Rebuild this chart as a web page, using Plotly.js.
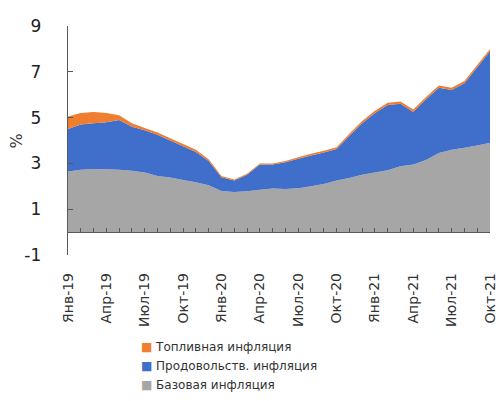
<!DOCTYPE html>
<html>
<head>
<meta charset="utf-8">
<script src="https://cdn.plot.ly/plotly-3.0.1.min.js"></script>
<style>
html, body { margin: 0; padding: 0; background: #fff; }
#chart { width: 496px; height: 401px; }
</style>
</head>
<body>
<div id="chart"></div>
<script>
var months = ['Янв-19','Фев-19','Мар-19','Апр-19','Май-19','Июн-19','Июл-19','Авг-19','Сен-19','Окт-19','Ноя-19','Дек-19',
              'Янв-20','Фев-20','Мар-20','Апр-20','Май-20','Июн-20','Июл-20','Авг-20','Сен-20','Окт-20','Ноя-20','Дек-20',
              'Янв-21','Фев-21','Мар-21','Апр-21','Май-21','Июн-21','Июл-21','Авг-21','Сен-21','Окт-21'];
var tickLabels = ['Янв-19','Апр-19','Июл-19','Окт-19','Янв-20','Апр-20','Июл-20','Окт-20','Янв-21','Апр-21','Июл-21','Окт-21'];
var yTicks = [-1, 1, 3, 5, 7, 9];

// contributions, п.п.
var baseInfl = [2.65,2.72,2.76,2.75,2.72,2.68,2.60,2.45,2.38,2.28,2.18,2.05,
                1.80,1.75,1.78,1.85,1.90,1.88,1.92,2.00,2.10,2.25,2.36,2.50,
                2.60,2.70,2.88,2.95,3.15,3.45,3.60,3.68,3.78,3.90];
var foodInfl = [1.85,1.98,1.99,2.05,2.18,1.92,1.85,1.80,1.62,1.47,1.32,1.05,
                0.60,0.50,0.72,1.10,1.05,1.17,1.28,1.35,1.38,1.38,1.84,2.25,
                2.60,2.85,2.72,2.30,2.65,2.85,2.60,2.82,3.42,4.00];
var fuelInfl = [0.55,0.50,0.50,0.40,0.20,0.15,0.10,0.10,0.10,0.10,0.10,0.08,
                0.05,0.05,0.05,0.05,0.05,0.05,0.07,0.07,0.07,0.08,0.10,0.10,
                0.10,0.10,0.10,0.10,0.10,0.10,0.10,0.10,0.10,0.10];

var GRAY = '#A6A6A6', BLUE = '#3F6FCB', ORANGE = '#EF7E30';
var AXIS = '#595959';
var Y_MIN = -1, Y_MAX = 9;

CHART = document.getElementById('chart');

var data = [{
    x: months, y: baseInfl, name: 'Базовая инфляция',
    stackgroup: 'infl', mode: 'none', fillcolor: GRAY,
    showlegend: false, hoverinfo: 'skip'
},{
    x: months, y: foodInfl, name: 'Продовольств. инфляция',
    stackgroup: 'infl', mode: 'none', fillcolor: BLUE,
    showlegend: false, hoverinfo: 'skip'
},{
    x: months, y: fuelInfl, name: 'Топливная инфляция',
    stackgroup: 'infl', mode: 'none', fillcolor: ORANGE,
    showlegend: false, hoverinfo: 'skip'
},{
    // empty trace holding the visible value axis (-1..9)
    x: months, y: months.map(function () { return null; }),
    yaxis: 'y2', mode: 'none', showlegend: false, hoverinfo: 'skip'
}];

// Excel-like legend with small squares
[['Топливная инфляция', ORANGE], ['Продовольств. инфляция', BLUE], ['Базовая инфляция', GRAY]].forEach(function (it) {
    data.push({
        x: [months[0]], y: [null], mode: 'none', hoverinfo: 'skip',
        name: '<span style="color:' + it[1] + '">■</span> ' + it[0]
    });
});

// the category axis crosses the value axis at 0
var zeroFrac = (0 - Y_MIN) / (Y_MAX - Y_MIN);

var layout = {
    width: 496,
    height: 401,
    margin: {l: 68, r: 6, t: 26, b: 146},
    paper_bgcolor: '#fff',
    plot_bgcolor: 'rgba(0,0,0,0)',
    font: {family: 'DejaVu Sans', color: '#333'},
    showlegend: true,
    legend: {
        xref: 'paper', yref: 'container',
        x: 0.078, y: 0.173, xanchor: 'left', yanchor: 'top',
        font: {size: 12}, traceorder: 'normal', itemclick: false
    },
    xaxis: {
        type: 'category', categoryorder: 'array', categoryarray: months,
        range: [0, months.length - 1], anchor: 'y',
        tickmode: 'array', tickvals: months,
        ticktext: months.map(function (m) { return tickLabels.indexOf(m) >= 0 ? m : ''; }),
        tickangle: -90, ticks: 'inside', ticklen: 4, tickcolor: AXIS,
        ticklabelstandoff: 34,
        tickfont: {size: 14, color: '#333'},
        showline: true, linecolor: AXIS, linewidth: 1.3,
        showgrid: false, zeroline: false, automargin: false
    },
    yaxis: {
        domain: [zeroFrac, 1], range: [0, Y_MAX],
        visible: false
    },
    yaxis2: {
        domain: [0, 1], range: [Y_MIN, Y_MAX], anchor: 'x',
        tickvals: yTicks, ticktext: yTicks.map(String),
        showline: true, linecolor: AXIS, linewidth: 1.3,
        ticks: 'inside', ticklen: 5, tickcolor: AXIS,
        ticklabelstandoff: 22,
        tickfont: {size: 17, color: '#222'},
        showgrid: false, zeroline: false, automargin: false
    },
    annotations: [{
        text: '%', textangle: -90, showarrow: false,
        xref: 'paper', yref: 'paper', x: -0.121, y: 0.5,
        xanchor: 'center', yanchor: 'middle',
        font: {size: 16, color: '#333'}
    }]
};
var config = {staticPlot: true};
Plotly.newPlot(CHART, data, layout, config);
</script>
</body>
</html>
